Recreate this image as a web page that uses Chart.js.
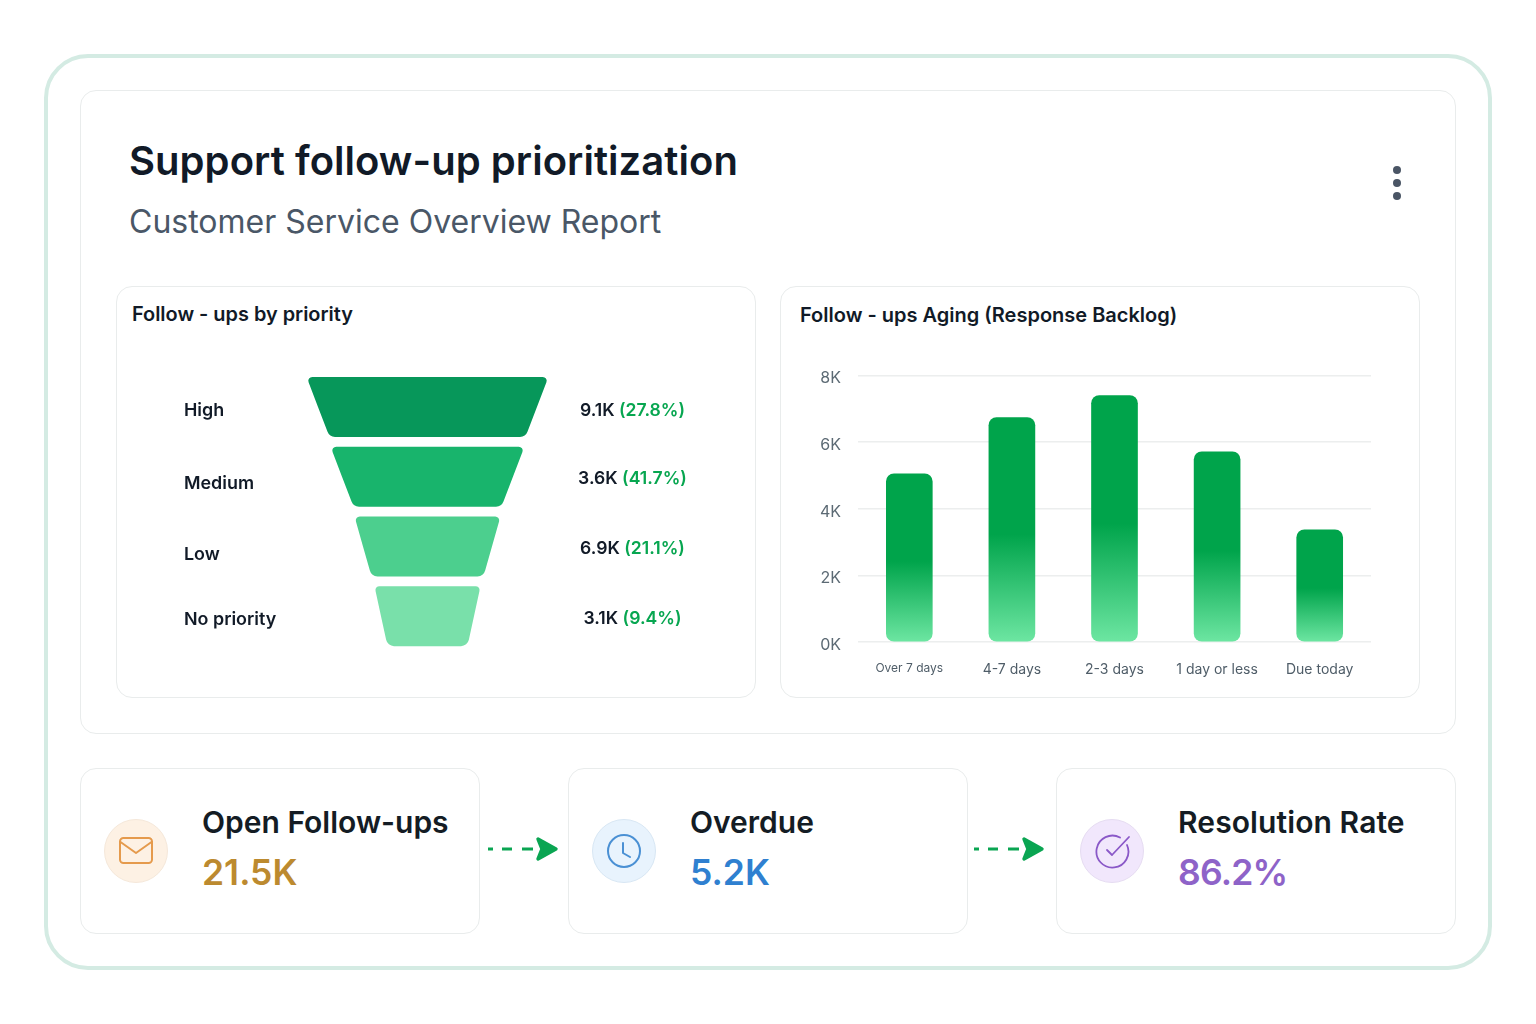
<!DOCTYPE html>
<html>
<head>
<meta charset="utf-8">
<title>Support follow-up prioritization</title>
<script src="https://cdn.jsdelivr.net/npm/chart.js@4/dist/chart.umd.js"></script>
<style>
  html, body { margin: 0; background: #fff; }
  body { position: relative; width: 1536px; height: 1024px; overflow: hidden; font-family: Inter, sans-serif; color: #111a27; }
  .box { position: absolute; box-sizing: border-box; background: #fff; }
  .frame { left: 44px; top: 54px; width: 1448px; height: 916px; border: 4px solid #d4ebe3; border-radius: 44px; }
  .card { border: 1.5px solid #e9ecec; border-radius: 16px; }
  .txt { position: absolute; white-space: nowrap; }
  .circle { position: absolute; width: 64px; height: 64px; border-radius: 50%; box-sizing: border-box; top: 819px; }
  .kpi-label { top: 803px; font-size: 30px; line-height: 38px; font-weight: 600; color: #141c24; }
  .kpi-value { top: 850px; font-size: 35.5px; line-height: 46px; font-weight: 600; }
  canvas { position: absolute; }
  svg { position: absolute; }
  .dot { position: absolute; left: 1393px; width: 8px; height: 8px; border-radius: 50%; background: #4a5565; }
</style>
</head>
<body>
<div class="box frame"></div>
<div class="box card" style="left:80px;top:90px;width:1376px;height:644px"></div>
<div class="txt" style="left:129px;top:136px;font-size:40px;line-height:50px;font-weight:600;letter-spacing:0.05px">Support follow-up prioritization</div>
<div class="txt" style="left:129px;top:202px;font-size:32px;line-height:40px;color:#4a5767">Customer Service Overview Report</div>
<div class="dot" style="top:166px"></div>
<div class="dot" style="top:179px"></div>
<div class="dot" style="top:192px"></div>

<div class="box card" style="left:116px;top:286px;width:640px;height:412px"></div>
<div class="txt" style="left:132px;top:301px;font-size:19.9px;line-height:26px;font-weight:600">Follow - ups by priority</div>
<canvas id="funnelChart" width="630" height="350" style="left:120px;top:340px"></canvas>

<div class="box card" style="left:780px;top:286px;width:640px;height:412px"></div>
<div class="txt" style="left:800px;top:302px;font-size:20px;line-height:26px;font-weight:600">Follow - ups Aging (Response Backlog)</div>
<canvas id="agingChart" width="600" height="341" style="left:800px;top:349px"></canvas>

<div class="box card" style="left:80px;top:768px;width:400px;height:166px"></div>
<div class="box card" style="left:568px;top:768px;width:400px;height:166px"></div>
<div class="box card" style="left:1056px;top:768px;width:400px;height:166px"></div>

<div class="circle" style="left:104px;background:#fdf1e4;border:1px solid #f5e8da"></div>
<svg style="left:118px;top:836px" width="36" height="30" viewBox="0 0 36 30" fill="none" stroke="#e59a4c" stroke-width="2" stroke-linecap="round" stroke-linejoin="round">
  <rect x="2" y="2" width="32" height="25" rx="3.5"/><path d="M2.5 6 L18 17 L33.5 6"/>
</svg>
<div class="circle" style="left:592px;background:#e8f3fd;border:1px solid #d8e7f4"></div>
<svg style="left:606px;top:833px" width="36" height="36" viewBox="0 0 36 36" fill="none" stroke="#4a90d4" stroke-width="2" stroke-linecap="round" stroke-linejoin="round">
  <circle cx="18" cy="18" r="16"/><path d="M17 10 V20 L24 24"/>
</svg>
<div class="circle" style="left:1080px;background:#f1e7fc;border:1px solid #e6dcf2"></div>
<svg style="left:1094px;top:833px" width="38" height="36" viewBox="0 0 38 36" fill="none" stroke="#8a58c8" stroke-width="1.8" stroke-linecap="round" stroke-linejoin="round">
  <path d="M33 12 A16 16 0 1 1 26 4.5"/><path d="M13 17 L18 22 L35 4"/>
</svg>

<div class="txt kpi-label" style="left:202px">Open Follow-ups</div>
<div class="txt kpi-value" style="left:202px;color:#bc8a2f">21.5K</div>
<div class="txt kpi-label" style="left:690px">Overdue</div>
<div class="txt kpi-value" style="left:690px;color:#2f80d0">5.2K</div>
<div class="txt kpi-label" style="left:1178px;letter-spacing:0.1px">Resolution Rate</div>
<div class="txt kpi-value" style="left:1178px;color:#8e63c8;letter-spacing:-0.8px">86.2%</div>

<svg style="left:486px;top:834px" width="76" height="30" viewBox="0 0 76 30" fill="none">
  <path d="M2 15 H7 M16 15 H26 M36 15 H47" stroke="#0aa552" stroke-width="3.2"/>
  <path d="M52 5 L70 15 L52 25 L56 15 Z" fill="#0aa552" stroke="#0aa552" stroke-width="3.4" stroke-linejoin="round"/>
</svg>
<svg style="left:972px;top:834px" width="76" height="30" viewBox="0 0 76 30" fill="none">
  <path d="M2 15 H7 M16 15 H26 M36 15 H47" stroke="#0aa552" stroke-width="3.2"/>
  <path d="M52 5 L70 15 L52 25 L56 15 Z" fill="#0aa552" stroke="#0aa552" stroke-width="3.4" stroke-linejoin="round"/>
</svg>

<script>
// funnel data
const priorities = ["High", "Medium", "Low", "No priority"];
const priorityValues = ["9.1K", "3.6K", "6.9K", "3.1K"];
const priorityShares = ["(27.8%)", "(41.7%)", "(21.1%)", "(9.4%)"];
const funnelTopWidths = [242, 194, 146, 106];
const funnelBottomWidths = [196, 148, 112, 80];
const funnelColors = ["#07975a", "#18b46c", "#4ccf8e", "#79e0aa"];
// the texts do not sit exactly on their band in the reference
const nameNudge = [4, 7, 8, 3];
const valueNudge = [4, 2, 2, 3];

// aging data
const agingLabels = ["Over 7 days", "4-7 days", "2-3 days", "1 day or less", "Due today"];
const agingValues = [5050, 6740, 7400, 5710, 3370];
const agingTicks = [0, 2000, 4000, 6000, 8000];

Chart.defaults.font.family = "Inter, sans-serif";
Chart.defaults.animation = false;

function roundedPoly(ctx, pts, radii) {
  ctx.beginPath();
  const last = pts[pts.length - 1];
  ctx.moveTo((last[0] + pts[0][0]) / 2, (last[1] + pts[0][1]) / 2);
  pts.forEach((p, i) => {
    const next = pts[(i + 1) % pts.length];
    ctx.arcTo(p[0], p[1], next[0], next[1], radii[i]);
  });
  ctx.closePath();
}

// a bar controller that draws each floating bar as a trapezoid
class FunnelController extends Chart.BarController {
  draw() {
    const ctx = this.chart.ctx;
    const xScale = this.chart.scales.x;
    const bottoms = this.getDataset().bottomWidths;
    this.getMeta().data.forEach((bar, i) => {
      const top = bar.y - bar.height / 2;
      const bottom = bar.y + bar.height / 2;
      const b = bottoms[i] / 2;
      ctx.save();
      ctx.fillStyle = this.getDataset().backgroundColor[i];
      roundedPoly(ctx, [
        [bar.base, top], [bar.x, top],
        [xScale.getPixelForValue(b), bottom], [xScale.getPixelForValue(-b), bottom]
      ], [4, 4, 8, 8]);
      ctx.fill();
      ctx.restore();
    });
  }
}
FunnelController.id = "funnelBar";
Chart.register(FunnelController);

const funnelText = {
  id: "funnelText",
  afterDraw(chart) {
    const ctx = chart.ctx;
    const yScale = chart.scales.y;
    ctx.save();
    ctx.textBaseline = "middle";
    priorities.forEach((name, i) => {
      const y = yScale.getPixelForValue(i);
      ctx.font = "600 17.9px Inter";
      ctx.fillStyle = "#111a27";
      ctx.textAlign = "left";
      ctx.fillText(name, 64, y + nameNudge[i]);

      ctx.font = "600 17.6px Inter";
      const first = priorityValues[i] + " ";
      const w1 = ctx.measureText(first).width;
      const w2 = ctx.measureText(priorityShares[i]).width;
      const startX = 512.5 - (w1 + w2) / 2;
      ctx.fillText(first, startX, y + valueNudge[i]);
      ctx.fillStyle = "#07a650";
      ctx.fillText(priorityShares[i], startX + w1, y + valueNudge[i]);
    });
    ctx.restore();
  }
};

new Chart(document.getElementById("funnelChart"), {
  type: "funnelBar",
  plugins: [funnelText],
  data: {
    labels: priorities,
    datasets: [{
      data: funnelTopWidths.map(w => [-w / 2, w / 2]),
      bottomWidths: funnelBottomWidths,
      backgroundColor: funnelColors,
      barThickness: 60
    }]
  },
  options: {
    indexAxis: "y",
    responsive: false,
    layout: { padding: { left: 170, right: 185, top: 32, bottom: 39 } },
    plugins: { legend: { display: false }, tooltip: { enabled: false } },
    scales: {
      x: { display: false, min: -137.5, max: 137.5 },
      y: { display: false }
    }
  }
});

function barFill(context) {
  const chart = context.chart;
  if (!context.parsed || !chart.chartArea) return "#00a44b";
  const yScale = chart.scales.y;
  const g = chart.ctx.createLinearGradient(0, yScale.getPixelForValue(context.parsed.y), 0, yScale.getPixelForValue(0));
  g.addColorStop(0, "#00a44b");
  g.addColorStop(0.52, "#00a44b");
  g.addColorStop(1, "#6de6a2");
  return g;
}

new Chart(document.getElementById("agingChart"), {
  type: "bar",
  data: {
    labels: agingLabels,
    datasets: [{
      data: agingValues,
      backgroundColor: barFill,
      barThickness: 46,
      borderRadius: 8,
      borderSkipped: false
    }]
  },
  options: {
    responsive: false,
    layout: { padding: { top: 5, right: 29, bottom: 0, left: 0 } },
    plugins: { legend: { display: false }, tooltip: { enabled: false } },
    scales: {
      x: {
        afterFit(scale) { scale.height = 48; },
        grid: { display: false },
        border: { display: false },
        ticks: {
          padding: 11,
          color: "#4f5d68",
          maxRotation: 0,
          font: ctx => ({ size: ctx.index === 0 ? 12 : 14 })
        }
      },
      y: {
        min: 0,
        max: 8000,
        afterFit(scale) { scale.width = 58; },
        afterBuildTicks(scale) { scale.ticks = agingTicks.map(value => ({ value })); },
        grid: { color: "#eceeee", lineWidth: 1.5, drawTicks: false },
        border: { display: false },
        ticks: {
          padding: 17,
          labelOffset: 3,
          color: "#5c6a74",
          font: { size: 16 },
          callback: v => (v / 1000) + "K"
        }
      }
    }
  }
});
</script>
</body>
</html>
